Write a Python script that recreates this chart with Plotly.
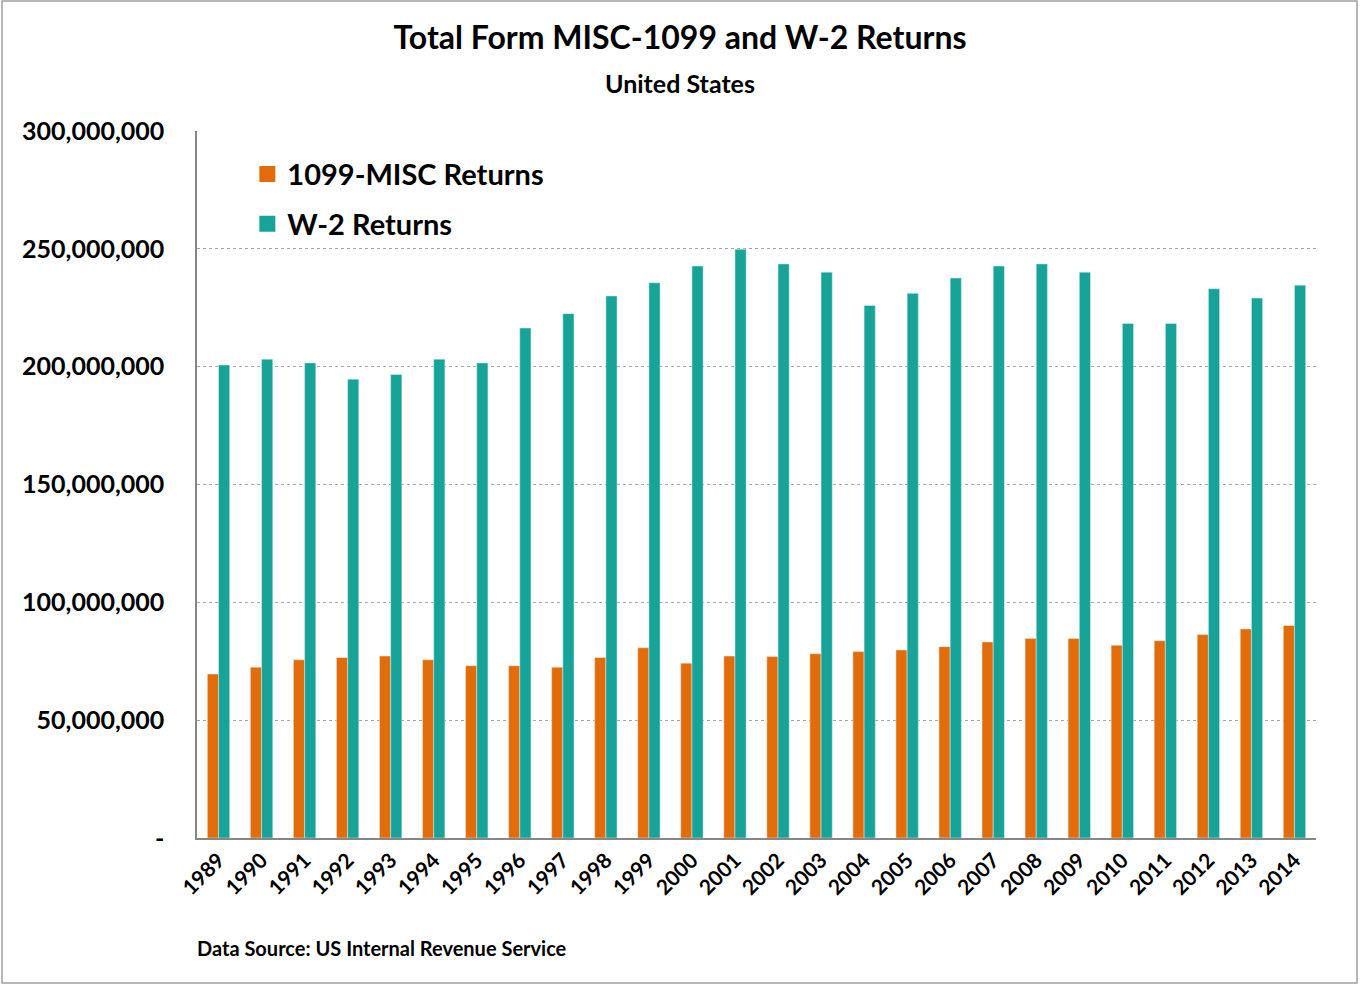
import plotly.graph_objects as go

years = [str(y) for y in range(1989, 2015)]
misc_1099 = [69.6, 72.5, 75.6, 76.6, 77.2, 75.6, 73.1, 73.1, 72.5, 76.6, 80.7, 74.2, 77.2,
             77.0, 78.2, 79.1, 79.8, 81.2, 83.2, 84.7, 84.7, 81.8, 83.7, 86.3, 88.7, 90.2]
w2 = [200.7, 203.2, 201.6, 194.7, 196.7, 203.2, 201.6, 216.4, 222.5, 230.0, 235.6, 242.7, 249.8,
      243.6, 240.1, 226.0, 231.1, 237.6, 242.7, 243.6, 240.1, 218.3, 218.3, 233.1, 229.1, 234.6]
misc_1099 = [v * 1e6 for v in misc_1099]
w2 = [v * 1e6 for v in w2]

tick_vals = [0, 50e6, 100e6, 150e6, 200e6, 250e6, 300e6]
tick_text = ["-", "50,000,000", "100,000,000", "150,000,000", "200,000,000", "250,000,000", "300,000,000"]

FONT = "Lato"
ORANGE = "#E36C0A"
TEAL = "#17A398"

fig = go.Figure()
fig.add_trace(go.Bar(x=years, y=misc_1099, name="1099-MISC Returns", marker_color=ORANGE,
                     showlegend=False))
fig.add_trace(go.Bar(x=years, y=w2, name="W-2 Returns", marker_color=TEAL, showlegend=False))
# legend entries with larger square swatches
fig.add_trace(go.Scatter(x=[None], y=[None], mode="markers", name="<b>1099-MISC Returns</b>",
                         marker=dict(symbol="square", size=18, color=ORANGE), legendgroup="a"))
fig.add_trace(go.Scatter(x=[None], y=[None], mode="markers", name="<b>W-2 Returns</b>",
                         marker=dict(symbol="square", size=18, color=TEAL), legendgroup="b"))

fig.update_layout(
    width=1360, height=985,
    paper_bgcolor="white", plot_bgcolor="white",
    margin=dict(l=197, r=44, t=131, b=147),
    barmode="group", bargap=0.48, bargroupgap=0,
    font=dict(family=FONT, color="black"),
    title=dict(text="<b>Total Form MISC-1099 and W-2 Returns</b>", x=0.5, xanchor="center",
               xref="container", y=1 - 38 / 985, yanchor="middle", yref="container",
               font=dict(size=32, family=FONT, color="black")),
    legend=dict(x=0.045, y=0.975, xanchor="left", yanchor="top", bgcolor="rgba(0,0,0,0)",
                font=dict(size=29, family=FONT, color="black"), traceorder="grouped",
                tracegroupgap=9, itemwidth=30, itemsizing="trace"),
    showlegend=True,
)
fig.update_xaxes(
    type="category", tickangle=-45, showgrid=False, showline=True, linecolor="#868686",
    linewidth=1.5, ticks="", tickfont=dict(size=21, family=FONT, color="black"),
    tickprefix="<b>", ticksuffix="</b>",
)
fig.update_yaxes(
    range=[0, 300e6], tickvals=tick_vals, ticktext=["<b>" + t + "</b>" for t in tick_text],
    showgrid=True, gridcolor="#A6A6A6", griddash="dot", gridwidth=1,
    showline=True, linecolor="#868686", linewidth=1.5, ticks="", ticklabelstandoff=26,
    tickfont=dict(size=25, family=FONT, color="black"), zeroline=False,
)

fig.add_annotation(text="<b>United States</b>", xref="paper", yref="paper",
                   x=(680 - 197) / 1119, y=(838 - 83) / 707, showarrow=False,
                   xanchor="center", yanchor="middle", font=dict(size=25, family=FONT))
fig.add_annotation(text="<b>Data Source: US Internal Revenue Service</b>", xref="paper",
                   yref="paper", x=(195 - 197) / 1119, y=(838 - 948) / 707, showarrow=False,
                   xanchor="left", yanchor="middle", font=dict(size=20, family=FONT))
fig.add_shape(type="rect", xref="paper", yref="paper",
              x0=(2 - 197) / 1119, x1=(1357 - 197) / 1119, y0=(838 - 983) / 707,
              y1=(838 - 1) / 707, line=dict(color="#A0A0A0", width=1.5))

fig.write_html("out.html", config={"displayModeBar": False},
               post_script="document.body.style.margin='0';")
